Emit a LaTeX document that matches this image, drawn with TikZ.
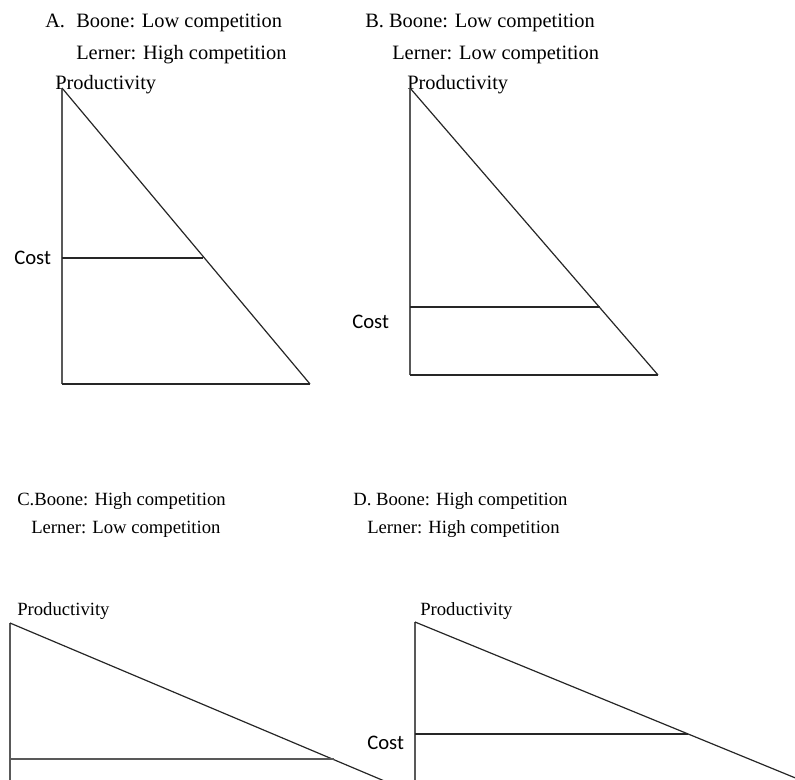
\documentclass[tikz,border=0pt]{standalone}
\usepackage{fontspec}
\setmainfont{Liberation Serif}
\newfontfamily\costfont{Carlito}
\begin{document}
\begin{tikzpicture}[x=0.75pt,y=-0.75pt,
  ttl/.style={anchor=base west,inner sep=0pt,font=\fontsize{15.3}{18}\selectfont},
  ttlc/.style={anchor=base west,inner sep=0pt,font=\fontsize{14}{17}\selectfont},
  costlbl/.style={anchor=base west,inner sep=0pt,font=\costfont\fontsize{15.5}{18}\selectfont},
  axis/.style={draw=black!65,line width=1.1pt},
  curve/.style={draw=black!85,line width=0.9pt}]
\useasboundingbox (0,0) rectangle (795,780);
\begin{scope}
\clip (0,0) rectangle (795,780);
% Panel A
\node[ttl] (aL) at (45,28) {A.};
\node[ttl] (a1) at (76,28) {Boone: Low competition};
\node[ttl] (a2) at (76,60) {Lerner: High competition};
\node[ttl] (aP) at (55,90) {Productivity};
\node[costlbl] (aC) at (14,265) {Cost};
\coordinate (aT) at (62,88);
\coordinate (aO) at (62,384);
\coordinate (aR) at (310,384);
\coordinate (aCl) at (62,258);
\coordinate (aCr) at (203,258);
\draw[axis] (aT) -- (aO);
\draw[curve] (aO) -- (aR);
\draw[curve] (aT) -- (aR);
\draw[curve] (aCl) -- (aCr);
% Panel B
\node[ttl] (b1) at (365,28) {B. Boone: Low competition};
\node[ttl] (b2) at (392,60) {Lerner: Low competition};
\node[ttl] (bP) at (407,90) {Productivity};
\node[costlbl] (bC) at (352,328) {Cost};
\coordinate (bT) at (410,88);
\coordinate (bO) at (410,375);
\coordinate (bR) at (658,375);
\coordinate (bCl) at (410,307);
\coordinate (bCr) at (600,307);
\draw[axis] (bT) -- (bO);
\draw[curve] (bO) -- (bR);
\draw[curve] (bT) -- (bR);
\draw[curve] (bCl) -- (bCr);
% Panel C
\node[ttlc] (c1) at (17,505) {C.Boone: High competition};
\node[ttlc] (c2) at (31,533) {Lerner: Low competition};
\node[ttlc] (cP) at (17,615) {Productivity};
\coordinate (cT) at (10,623);
\coordinate (cO) at (10,790);
\coordinate (cR) at (401,788);
\coordinate (cCl) at (10,759);
\coordinate (cCr) at (334,759);
\draw[axis] (cT) -- (cO);
\draw[curve] (cT) -- (cR);
\draw[axis] (cCl) -- (cCr);
% Panel D
\node[ttlc] (d1) at (353,505) {D. Boone: High competition};
\node[ttlc] (d2) at (367,533) {Lerner: High competition};
\node[ttlc] (dP) at (420,615) {Productivity};
\node[costlbl] (dC) at (367,749) {Cost};
\coordinate (dT) at (415,622);
\coordinate (dO) at (415,790);
\coordinate (dR) at (815,786);
\coordinate (dCl) at (415,734);
\coordinate (dCr) at (688,734);
\draw[axis] (dT) -- (dO);
\draw[curve] (dT) -- (dR);
\draw[curve] (dCl) -- (dCr);
\end{scope}
\end{tikzpicture}
\end{document}
